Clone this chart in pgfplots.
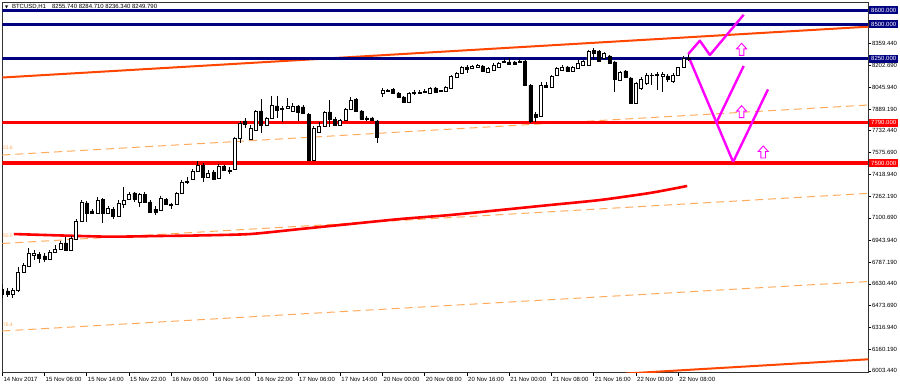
\documentclass[border=0pt]{standalone}
\usepackage{fontspec}
\setmainfont{Liberation Sans}
\newfontfamily\djv{DejaVu Sans}
\usepackage{pgfplots}
\pgfplotsset{compat=1.18}
\usepackage{pgfplotstable}
\definecolor{navyc}{RGB}{0,0,128}
\definecolor{orred}{RGB}{255,69,0}
\definecolor{fibc}{RGB}{255,170,90}
\definecolor{mag}{RGB}{255,0,255}
\definecolor{framec}{RGB}{50,50,50}

\pgfplotstableread{
i o h l c
0 6593 6629 6529 6557
1 6579 6601 6536 6557
2 6557 6601 6529 6586
3 6586 6752 6572 6716
4 6716 6781 6709 6766
5 6759 6889 6752 6853
6 6838 6874 6802 6853
7 6845 6860 6781 6817
8 6831 6853 6788 6809
9 6809 6874 6802 6860
10 6860 6910 6853 6881
11 6881 6939 6874 6925
12 6925 6968 6867 6874
13 6874 6975 6867 6961
14 6953 7097 6946 7083
15 7083 7234 7076 7220
16 7213 7227 7076 7141
17 7155 7169 7133 7141
18 7141 7256 7133 7234
19 7241 7249 7069 7141
20 7141 7191 7141 7177
21 7169 7184 7097 7119
22 7119 7234 7112 7213
23 7205 7328 7177 7234
24 7241 7292 7234 7277
25 7285 7292 7220 7241
26 7220 7285 7184 7277
27 7277 7292 7220 7220
28 7220 7234 7141 7148
29 7169 7191 7126 7148
30 7162 7263 7155 7249
31 7241 7249 7198 7205
32 7198 7213 7169 7205
33 7205 7292 7198 7285
34 7285 7378 7277 7364
35 7364 7400 7349 7371
36 7385 7457 7378 7443
37 7443 7515 7436 7486
38 7486 7501 7364 7400
39 7400 7450 7393 7429
40 7436 7450 7378 7385
41 7393 7493 7385 7479
42 7479 7486 7443 7450
43 7450 7472 7421 7443
44 7457 7688 7450 7681
45 7681 7803 7645 7789
46 7803 7825 7753 7781
47 7673 7774 7666 7753
48 7738 7882 7731 7875
49 7875 7961 7717 7774
50 7774 7832 7767 7825
51 7825 7983 7817 7918
52 7911 7983 7825 7882
53 7889 7911 7796 7897
54 7897 7969 7889 7911
55 7875 7933 7868 7911
56 7911 7918 7803 7868
57 7904 7918 7853 7861
58 7853 7861 7515 7522
59 7522 7767 7515 7753
60 7724 7796 7717 7767
61 7767 7875 7760 7868
62 7868 7954 7760 7817
63 7817 7832 7767 7774
64 7774 7817 7767 7810
65 7810 7897 7803 7889
66 7889 7976 7882 7954
67 7961 7969 7868 7875
68 7875 7882 7810 7817
69 7825 7839 7803 7817
70 7825 7832 7803 7810
71 7803 7810 7645 7688
72 8005 8041 7976 8026
73 8019 8033 8012 8026
74 8033 8041 7997 8005
75 8005 8012 7969 7976
76 7976 7983 7933 7940
77 7940 8012 7933 8005
78 8005 8026 7990 8012
79 8005 8026 7997 8012
80 8012 8033 8005 8019
81 8005 8048 7997 8041
82 8041 8048 8005 8012
83 8019 8026 8012 8022
84 8019 8055 8012 8048
85 8041 8134 8033 8127
86 8120 8156 8113 8149
87 8149 8199 8141 8192
88 8192 8206 8149 8177
89 8185 8206 8177 8199
90 8192 8213 8185 8206
91 8199 8206 8156 8163
92 8156 8192 8149 8185
93 8170 8221 8163 8206
94 8192 8228 8185 8221
95 8228 8249 8221 8231
96 8228 8257 8206 8213
97 8228 8235 8206 8213
98 8235 8249 8221 8228
99 8235 8242 8055 8062
100 8062 8069 7786 7798
101 7853 7868 7796 7832
102 7839 8084 7832 8062
103 8062 8084 8041 8048
104 8048 8134 8041 8127
105 8134 8192 8127 8185
106 8170 8206 8163 8192
107 8192 8199 8156 8163
108 8163 8199 8156 8192
109 8185 8242 8177 8221
110 8206 8242 8199 8235
111 8206 8314 8199 8307
112 8314 8328 8242 8293
113 8307 8314 8228 8235
114 8257 8300 8249 8293
115 8271 8278 8213 8221
116 8228 8235 8012 8105
117 8098 8163 8091 8156
118 8163 8170 8113 8120
119 8113 8120 7925 7933
120 7933 8084 7925 8077
121 8041 8120 8026 8105
122 8077 8149 8062 8134
123 8134 8149 8062 8131
124 8134 8156 8026 8138
125 8127 8156 8012 8141
126 8127 8141 8084 8105
127 8091 8149 8077 8134
128 8134 8192 8127 8192
129 8192 8271 8185 8257
130 8255.74 8284.71 8236.34 8249.79
}\candles

\pgfplotstableread{
x y
2.2 6989
10.9 6979
20.4 6970
29.9 6975
37.4 6979
46.9 6989
56.4 7025
65.8 7061
75.3 7097
84.8 7126
94.3 7162
103.7 7198
113.2 7234
122.7 7285
129.7 7335
}\mavg

\pgfdeclareplotmark{hollowup}{%
  \pgfpathmoveto{\pgfqpoint{0pt}{6pt}}%
  \pgfpathlineto{\pgfqpoint{-5pt}{0.5pt}}%
  \pgfpathlineto{\pgfqpoint{-2.3pt}{0.5pt}}%
  \pgfpathlineto{\pgfqpoint{-2.3pt}{-6pt}}%
  \pgfpathlineto{\pgfqpoint{2.3pt}{-6pt}}%
  \pgfpathlineto{\pgfqpoint{2.3pt}{0.5pt}}%
  \pgfpathlineto{\pgfqpoint{5pt}{0.5pt}}%
  \pgfpathclose
  \pgfusepathqfillstroke}

\pgfplotsset{common/.style={scale only axis, width=866pt, height=370.7pt,
  xmin=0, xmax=164, ymin=5990.7, ymax=8659.8,
  at={(2.3pt,14.3pt)}, anchor=south west}}
\newcommand{\sm}{\fontsize{6}{7}\selectfont}

\begin{document}
\begin{tikzpicture}
\begin{axis}[common,
  axis line style={framec, line width=0.8pt},
  tick align=outside, major tick length=3pt,
  tick style={black, line width=0.6pt},
  xtick pos=bottom, ytick pos=right, yticklabel pos=right,
  xtick={0,8,...,128},
  xticklabels={14 Nov 2017,15 Nov 06:00,15 Nov 14:00,15 Nov 22:00,16 Nov 06:00,16 Nov 14:00,16 Nov 22:00,17 Nov 06:00,17 Nov 14:00,20 Nov 00:00,20 Nov 08:00,20 Nov 16:00,21 Nov 00:00,21 Nov 08:00,21 Nov 16:00,22 Nov 00:00,22 Nov 08:00},
  ytick={8359.44,8202.69,8045.94,7889.19,7732.44,7575.69,7418.94,7262.19,7105.44,6943.94,6787.19,6630.44,6473.69,6316.94,6160.19,6003.44},
  yticklabels={8359.440,8202.690,8045.940,7889.190,7732.440,7575.690,7418.940,7262.190,7100.690,6943.940,6787.190,6630.440,6473.690,6316.940,6160.190,6003.440},
  xticklabel style={font=\sm, anchor=north west, inner sep=0pt, xshift=1pt, yshift=-1.5pt},
  yticklabel style={font=\sm, anchor=west, inner sep=0pt, xshift=0.5pt},
]
% Fibonacci dashed lines
\addplot[fibc, line width=1pt, dash pattern=on 8pt off 5pt] coordinates {(0,7558) (164,7918)};
\addplot[fibc, line width=1pt, dash pattern=on 8pt off 5pt] coordinates {(0,6921) (164,7282)};
\addplot[fibc, line width=1pt, dash pattern=on 8pt off 5pt] coordinates {(0,6291) (164,6647)};
% channel lines
\addplot[orred, line width=2pt] coordinates {(0,8116) (164,8482)};
\addplot[orred, line width=2pt] coordinates {(118,5984.5) (164,6087.2)};
% moving average
\addplot[red, line width=2.6pt, smooth, tension=0.4] table[x=x, y=y] {\mavg};
% horizontal levels
\addplot[navyc, line width=2.8pt] coordinates {(0,8600) (164,8600)};
\addplot[navyc, line width=2.8pt] coordinates {(0,8500) (164,8500)};
\addplot[navyc, line width=3pt] coordinates {(0,8250) (164,8250)};
\addplot[red, line width=3.2pt] coordinates {(0,7790) (164,7790)};
\addplot[red, line width=3.2pt] coordinates {(0,7500) (164,7500)};
% wicks
\addplot[draw=none, mark=none,
  error bars/.cd, y dir=minus, y explicit, error mark=none,
  error bar style={draw=black, solid, line width=0.75pt}]
  table[x=i, y=h, y error minus expr={\thisrow{h}-\thisrow{l}}] {\candles};
% pink scenario lines
\addplot[mag, line width=2.4pt, line join=round] coordinates {(129.9,8285) (132.1,8381) (134.0,8278) (140.4,8568)};
\addplot[mag, line width=2.4pt] coordinates {(130.1,8254) (138.4,7508)};
\addplot[mag, line width=2.4pt] coordinates {(135.2,7789) (140.4,8199)};
\addplot[mag, line width=2.4pt, line join=round] coordinates {(138.4,7508) (145.0,8030)};
\addplot[only marks, mark=hollowup, mark options={draw=mag, fill=white, line width=0.9pt}] coordinates {(140.0,8319) (140.0,7870) (144.1,7580)};
\end{axis}

\begin{axis}[common, hide axis, ybar stacked, bar width=3pt]
\addplot[draw=none, fill=none] table[x=i, y expr={min(\thisrow{o},\thisrow{c})}] {\candles};
\addplot[draw=black, fill=white, line width=0.6pt] table[x=i, y expr={max(\thisrow{c}-\thisrow{o},0)}] {\candles};
\addplot[draw=black, fill=black, line width=0.6pt] table[x=i, y expr={max(\thisrow{o}-\thisrow{c},0)}] {\candles};
\end{axis}

\begin{axis}[common, hide axis, clip=false]
\node[fill=navyc, text=white, font=\sm, inner xsep=2pt, inner ysep=0pt, minimum height=8pt, anchor=west, xshift=0.7pt] at (axis cs:164,8600) {8600.000};
\node[fill=navyc, text=white, font=\sm, inner xsep=2pt, inner ysep=0pt, minimum height=8pt, anchor=west, xshift=0.7pt] at (axis cs:164,8500) {8500.000};
\node[fill=navyc, text=white, font=\sm, inner xsep=2pt, inner ysep=0pt, minimum height=8pt, anchor=west, xshift=0.7pt] at (axis cs:164,8250) {8250.000};
\node[fill=red, text=white, font=\sm, inner xsep=2pt, inner ysep=0pt, minimum height=8pt, anchor=west, xshift=0.7pt] at (axis cs:164,7790) {7790.000};
\node[fill=red, text=white, font=\sm, inner xsep=2pt, inner ysep=0pt, minimum height=8pt, anchor=west, xshift=0.7pt] at (axis cs:164,7500) {7500.000};
\node[text=fibc, font=\fontsize{5}{6}\selectfont, inner sep=0pt, anchor=west] at (axis cs:0.1,7608) {23.6};
\node[text=fibc, font=\fontsize{5}{6}\selectfont, inner sep=0pt, anchor=west] at (axis cs:0.1,6975) {50.0};
\node[text=fibc, font=\fontsize{5}{6}\selectfont, inner sep=0pt, anchor=west] at (axis cs:0.1,6334) {76.4};
\node[font=\sm, inner sep=0pt, anchor=west, xshift=2.5pt, yshift=-4.7pt] at (rel axis cs:0,1) {{\djv\fontsize{4}{5}\selectfont ▼}\hspace{4pt}BTCUSD,H1\hspace{6pt}8255.740 8284.710 8236.340 8249.790};
\end{axis}
\pgfresetboundingbox
\path (0,0) rectangle (900pt,387pt);
\end{tikzpicture}
\end{document}
